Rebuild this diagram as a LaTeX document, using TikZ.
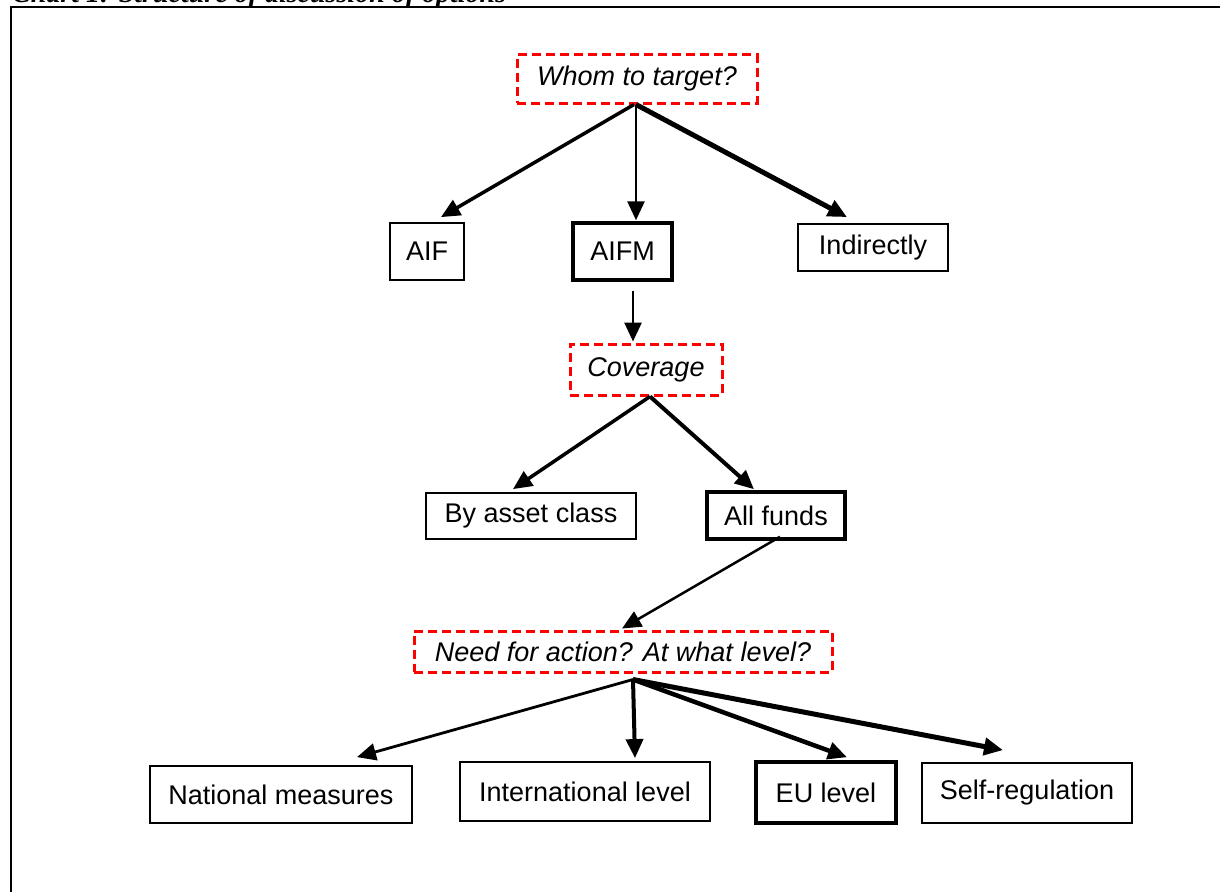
\documentclass[tikz,border=0pt]{standalone}
\usepackage{fontspec}
\setmainfont{Liberation Serif}
\setsansfont{Liberation Sans}
\usetikzlibrary{arrows.meta}
\begin{document}
\begin{tikzpicture}[x=1pt,y=-1pt,
		box/.style={draw, line width=1.8pt, inner sep=0pt, font=\sffamily\fontsize{27}{30}\selectfont},
		chosen/.style={box, line width=3.5pt},
		question/.style={box, draw=red, dash pattern=on 9pt off 5pt, line width=3pt, font=\sffamily\itshape\fontsize{27}{30}\selectfont},
		arr/.style={-{Triangle[length=19pt,width=17pt]}, line width=2.8pt}]
			\useasboundingbox (0,0) rectangle (1220,891);
			\node [anchor=base west, inner sep=0pt, font=\bfseries\itshape\fontsize{28}{30}\selectfont] (title) at (12,3) {Chart 1: Structure of discussion of options};
			\draw [line width=2.5pt] (11,7) rectangle (1270,940);
			% questions
			\node [question, minimum width=240, minimum height=48] (whom) at (637,79) {Whom to target?};
			\node [question, minimum width=152, minimum height=51] (cover) at (646,369.5) {Coverage};
			\node [question, minimum width=418, minimum height=41] (need) at (623,651.5) {Need for action? At what level?};
			% options
			\node [box, minimum width=74, minimum height=57] (aif) at (427,251.5) {AIF};
			\node [chosen, minimum width=99, minimum height=57] (aifm) at (622.5,251.5) {AIFM};
			\node [box, minimum width=150, minimum height=47] (indirect) at (873,247.5) {Indirectly};
			\node [box, minimum width=210, minimum height=46] (assetclass) at (531,516) {By asset class};
			\node [chosen, minimum width=138, minimum height=47] (allfunds) at (776,515.5) {All funds};
			\node [box, minimum width=262, minimum height=57] (national) at (281,794.5) {National measures};
			\node [box, minimum width=250, minimum height=59] (intl) at (585,791.5) {International level};
			\node [chosen, minimum width=140, minimum height=61] (eu) at (826,792.5) {EU level};
			\node [box, minimum width=210, minimum height=60] (selfreg) at (1027,793) {Self-regulation};
			% arrows
			\draw [arr, line width=3.5pt] ([shift={(-3,0)}]whom.south) -- ([shift={(14,-5)}]aif.north);
			\draw [arr] ([shift={(-1,0)}]whom.south) -- ([shift={(13.5,-1)}]aifm.north);
			\draw [arr, line width=5pt] ([shift={(-1,0)}]whom.south) -- ([shift={(-26,-6)}]indirect.north);
			\draw [arr] ([shift={(10.5,9)}]aifm.south) -- ([shift={(-13,-1)}]cover.north);
			\draw [arr, line width=3.5pt] ([shift={(4,0)}]cover.south) -- ([shift={(-18,-3)}]assetclass.north);
			\draw [arr, line width=4pt] ([shift={(4,0)}]cover.south) -- ([shift={(-22,-1)}]allfunds.north);
			\draw [arr, line width=2.5pt] ([shift={(4,-4)}]allfunds.south) -- ([shift={(-1,-1)}]need.north);
			\draw [arr] ([shift={(10,6)}]need.south) -- ([shift={(76,-8)}]national.north);
			\draw [arr, line width=4pt] ([shift={(10,6)}]need.south) -- ([shift={(50,-3)}]intl.north);
			\draw [arr, line width=4.5pt] ([shift={(10,6)}]need.south) -- ([shift={(21,-3)}]eu.north);
			\draw [arr, line width=5pt] ([shift={(10,6)}]need.south) -- ([shift={(-24,-12)}]selfreg.north);
		\end{tikzpicture}
\end{document}
